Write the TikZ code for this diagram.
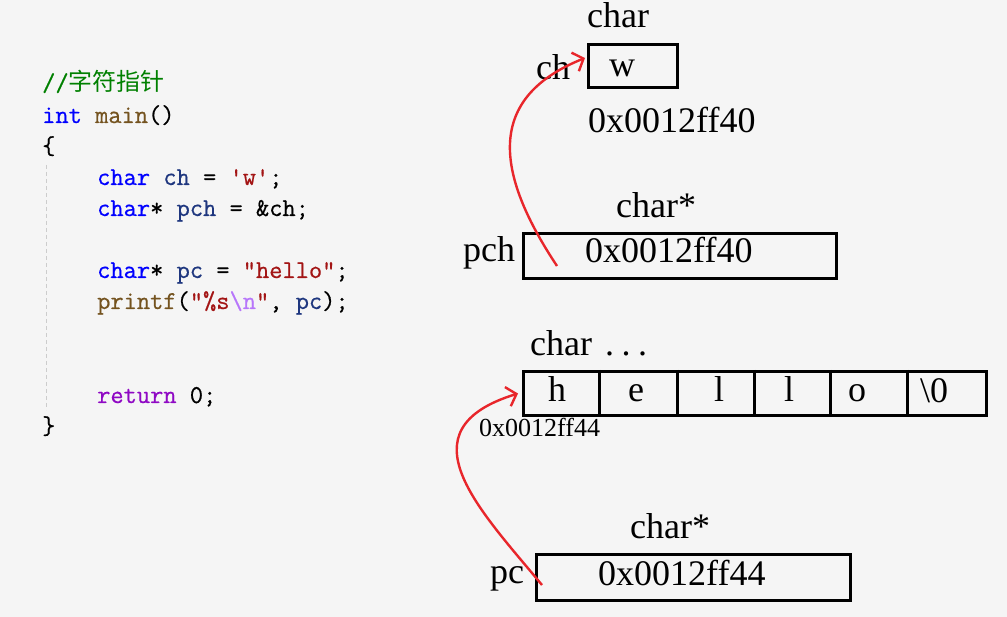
\documentclass[tikz,border=0pt]{standalone}
\usepackage{fontspec}
\usetikzlibrary{arrows.meta}
\setmainfont{Liberation Serif}
\newfontfamily\codefont[FakeBold=0.6]{Latin Modern Mono}
\newfontfamily\cjkfont{Noto Sans CJK SC}
\definecolor{bgc}{HTML}{F5F5F5}
\definecolor{kwblue}{HTML}{0000FF}
\definecolor{fnbrown}{HTML}{74531F}
\definecolor{varblue}{HTML}{1F377F}
\definecolor{strred}{HTML}{A31515}
\definecolor{escpurple}{HTML}{B776FB}
\definecolor{retpurple}{HTML}{8F08C4}
\definecolor{cmtgreen}{HTML}{008000}
\definecolor{arrowred}{HTML}{E8262B}
\newcommand{\KW}[1]{\textcolor{kwblue}{#1}}
\newcommand{\FN}[1]{\textcolor{fnbrown}{#1}}
\newcommand{\VR}[1]{\textcolor{varblue}{#1}}
\newcommand{\ST}[1]{\textcolor{strred}{#1}}
\begin{document}
\begin{tikzpicture}[x=1pt,y=-1pt,
  codeline/.style={anchor=base west,inner sep=0pt,font=\codefont\fontsize{25.7}{28}\selectfont,text=black},
  lbl/.style={inner sep=0pt,anchor=base west,font=\fontsize{36}{38}\selectfont},
  clbl/.style={inner sep=0pt,anchor=base,font=\fontsize{36}{38}\selectfont},
  smalllbl/.style={inner sep=0pt,anchor=base west,font=\fontsize{26}{28}\selectfont},
  membox/.style={draw=black,line width=3pt,inner sep=0pt,anchor=north west},
  ptrarrow/.style={draw=arrowred,line width=2.4pt,-{Straight Barb[length=9pt,width=20pt,line width=2.4pt]}}]
\fill[bgc] (0,0) rectangle (1007,617);
\useasboundingbox (0,0) rectangle (1007,617);
% code
\node[codeline] (l0) at (42,91) {\textcolor{cmtgreen}{//{\cjkfont\fontsize{24}{26}\selectfont 字符指针}}};
\node[codeline] (l1) at (42,123) {\KW{int} \FN{main}()};
\node[codeline] (l2) at (42,154) {\{};
\node[codeline] (l3) at (97,185) {\KW{char} \VR{ch} = \ST{'w'};};
\node[codeline] (l4) at (97,216) {\KW{char}* \VR{pch} = \&ch;};
\node[codeline] (l5) at (97,278) {\KW{char}* \VR{pc} = \ST{"hello"};};
\node[codeline] (l6) at (97,309) {\FN{printf}(\ST{"\%s}\textcolor{escpurple}{\textbackslash n}\ST{"}, \VR{pc});};
\node[codeline] (l7) at (97,403) {\textcolor{retpurple}{return} 0;};
\node[codeline] (l8) at (42,434) {\}};
\draw[gray!40,line width=1pt,dash pattern=on 4pt off 3pt] (46,165) -- (46,410);
% ch
\node[lbl] (chtype) at (587,28) {char};
\node[membox,minimum width=89pt,minimum height=43pt] (chbox) at (587,43) {};
\node[clbl] (chval) at (622,77) {w};
\node[clbl] (chname) at (553,80) {ch};
\node[lbl] (chaddr) at (588,133) {0x0012ff40};
% pch
\node[lbl] (pchtype) at (616,218) {char*};
\node[membox,minimum width=313pt,minimum height=45pt] (pchbox) at (522,232) {};
\node[lbl] (pchval) at (585,263) {0x0012ff40};
\node[lbl] (pchname) at (463,262) {pch};
% array
\node[lbl] (arrtype) at (530,356) {char\hspace{13pt}.\hspace{7.5pt}.\hspace{7.5pt}.};
\node[membox,minimum width=463pt,minimum height=44pt] (arrbox) at (522,370) {};
\foreach \xx in {599,677,754,830,907}{\draw[line width=3pt] (\xx,370) -- (\xx,414);}
\node[clbl] (c1) at (557,402) {h};
\node[clbl] (c2) at (636,402) {e};
\node[clbl] (c3) at (719,402) {l};
\node[clbl] (c4) at (789,402) {l};
\node[clbl] (c5) at (857,402) {o};
\node[clbl] (c6) at (934,403) {\textbackslash 0};
\node[smalllbl] (arraddr) at (479,437) {0x0012ff44};
% pc
\node[lbl] (pctype) at (630,538) {char*};
\node[membox,minimum width=314pt,minimum height=46pt] (pcbox) at (535,553) {};
\node[lbl] (pcval) at (598,585) {0x0012ff44};
\node[lbl] (pcname) at (490,583) {pc};
% arrows
\coordinate (a1s) at (557,266);
\coordinate (a2s) at (542,585);
\draw[ptrarrow] (a1s) .. controls (500,180) and (480,100) .. ([xshift=-2pt,yshift=8pt]chbox.west);
\draw[ptrarrow] (a2s) .. controls (480,510) and (400,430) .. ([xshift=-4pt]arrbox.west);
\end{tikzpicture}
\end{document}
